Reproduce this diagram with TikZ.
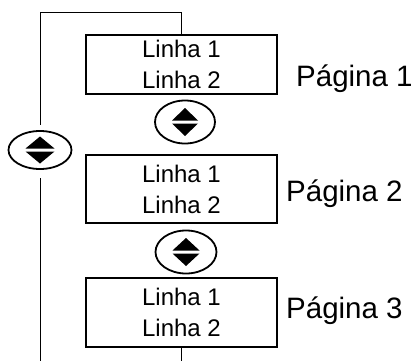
\documentclass[tikz,border=0pt]{standalone}
\usepackage{fontspec}
\setmainfont{Liberation Sans}
\usetikzlibrary{shapes.geometric,calc}
\tikzset{
  x=1pt, y=-1pt,
  conn/.style={line width=1.1pt, black},
  pagebox/.style={draw=black, line width=1.1pt, minimum width=191pt, inner sep=0pt,
    align=center, font=\fontsize{24}{31}\selectfont},
  btn/.style={ellipse, draw=black, line width=1.8pt, inner sep=0pt},
  plabel/.style={anchor=base west, inner sep=0pt, font=\fontsize{29.5}{34}\selectfont},
  tri/.style={fill=black, draw=none}
}
\newcommand{\arrowsin}[3]{% node, half width, height
  \fill[tri] ($(#1.center)+(-#2,-1.5)$) -- ($(#1.center)+(#2,-1.5)$) -- ($(#1.center)+(0,-1.5-#3)$) -- cycle;
  \fill[tri] ($(#1.center)+(-#2,1.5)$) -- ($(#1.center)+(#2,1.5)$) -- ($(#1.center)+(0,1.5+#3)$) -- cycle;
}
\begin{document}
\begin{tikzpicture}
\useasboundingbox (0,0) rectangle (420,361);
% boxes
\node[pagebox, minimum height=59pt] (b1) at (181.5,64.5) {Linha 1\\Linha 2};
\node[pagebox, minimum height=68pt] (b2) at (181.5,189) {Linha 1\\Linha 2};
\node[pagebox, minimum height=69pt] (b3) at (181.5,312.5) {Linha 1\\Linha 2};
% page labels
\node[plabel] (p1) at (296,86) {Página 1};
\node[plabel] (p2) at (286,201) {Página 2};
\node[plabel] (p3) at (286,318) {Página 3};
% buttons
\node[btn, minimum width=60pt, minimum height=43pt] (e1) at (185,122) {};
\node[btn, minimum width=61pt, minimum height=43pt] (e2) at (186,252) {};
\node[btn, minimum width=63pt, minimum height=38pt] (e0) at (40,150) {};
\arrowsin{e1}{13}{12.5}
\arrowsin{e2}{13.5}{12.5}
\arrowsin{e0}{14.5}{12}
% loop connectors
\coordinate (tl) at (40.7,12.7);
\coordinate (tr) at (b1.north |- tl);
\coordinate (lu) at (40.7,125);
\coordinate (ld) at (40.7,178);
\coordinate (lb) at (40.7,362);
\coordinate (rb) at (b3.south |- lb);
\draw[conn] (b1.north) -- (tr) -- (tl) -- (lu);
\draw[conn] (ld) -- (lb);
\draw[conn] (b3.south) -- (rb);
\end{tikzpicture}
\end{document}
